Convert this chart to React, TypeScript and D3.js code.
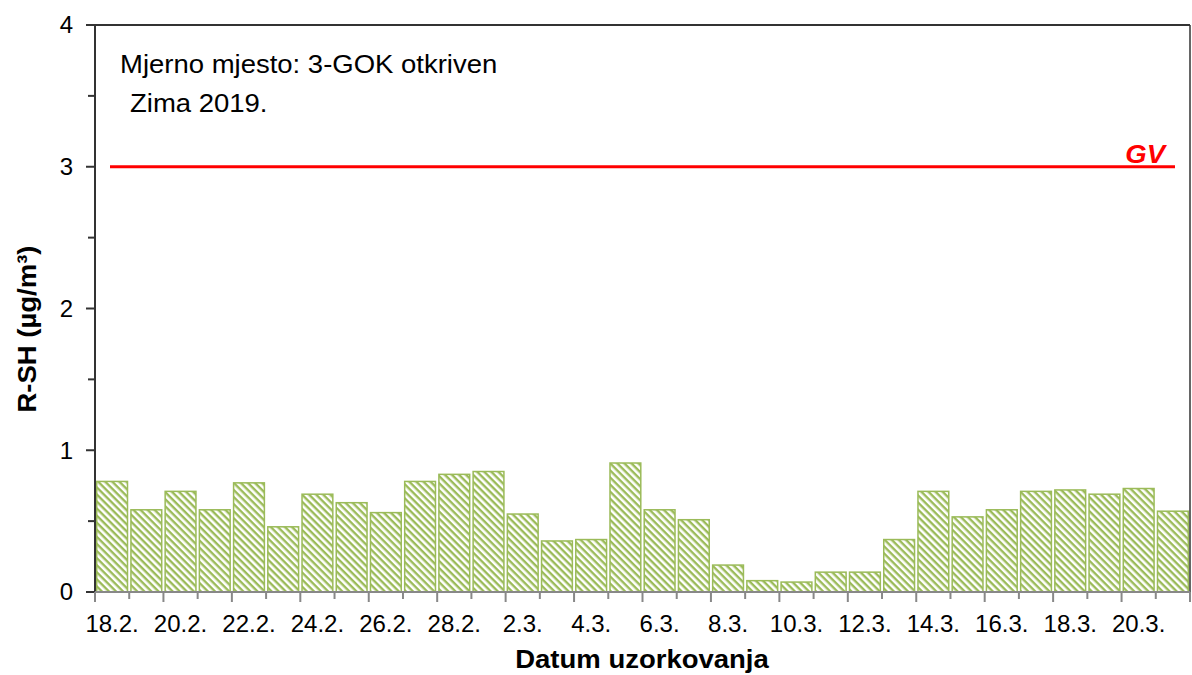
import React from "react";
import * as d3 from "d3";

const dates = ["18.2.","19.2.","20.2.","21.2.","22.2.","23.2.","24.2.","25.2.","26.2.","27.2.","28.2.","1.3.","2.3.","3.3.","4.3.","5.3.","6.3.","7.3.","8.3.","9.3.","10.3.","11.3.","12.3.","13.3.","14.3.","15.3.","16.3.","17.3.","18.3.","19.3.","20.3.","21.3."];
const values = [0.78,0.58,0.71,0.58,0.77,0.46,0.69,0.63,0.56,0.78,0.83,0.85,0.55,0.36,0.37,0.91,0.58,0.51,0.19,0.08,0.07,0.14,0.14,0.37,0.71,0.53,0.58,0.71,0.72,0.69,0.73,0.57];
const yTicks = [0,1,2,3,4];
const limitValue = 3;
const limitLabel = "GV";
const annotation1 = "Mjerno mjesto: 3-GOK otkriven";
const annotation2 = "Zima 2019.";
const yTitle = "R-SH (µg/m³)";
const xTitle = "Datum uzorkovanja";

const W = 1192, H = 675;
const left = 95, right = 1190, top = 25, bottom = 592;
const green = "#9BBB59";
const font = "'Liberation Sans', Arial, sans-serif";
const SX = 1.1;

export default function App() {
  const x = d3.scaleBand().domain(dates).range([left, right]).paddingInner(0.1).paddingOuter(0.05);
  const y = d3.scaleLinear().domain([0, 4]).range([bottom, top]);
  const bw = (right - left) / dates.length;
  const bandStart = (i: number) => left + i * bw;
  const minor = d3.range(0.5, 4, 1);
  return (
    <svg width={W} height={H} style={{ position: "absolute", left: 0, top: 0, background: "#fff" }}>
      <defs>
        <pattern id="hatch" patternUnits="userSpaceOnUse" width={5} height={5} patternTransform="rotate(45)">
          <rect x={0} y={0} width={5} height={5} fill="#fff" />
          <rect x={0} y={0} width={5} height={2.4} fill={green} />
        </pattern>
      </defs>
      <rect x={0} y={0} width={W} height={H} fill="#fff" />
      {values.map((v, i) => {
        const x0 = bandStart(i) + bw * 0.05;
        const w = bw * 0.9;
        return (
          <rect key={i} x={x0} y={y(v)} width={w} height={bottom - y(v)}
            fill="url(#hatch)" stroke={green} strokeWidth={1.5} />
        );
      })}
      <line x1={86} x2={right} y1={top} y2={top} stroke="#333" strokeWidth={2} />
      <line x1={right} x2={right} y1={top} y2={bottom} stroke="#333" strokeWidth={1.5} />
      <line x1={left} x2={left} y1={top} y2={bottom} stroke="#333" strokeWidth={2} />
      <line x1={left} x2={right} y1={bottom} y2={bottom} stroke="#888" strokeWidth={2} />
      {yTicks.map((t) => (
        <g key={t}>
          <line x1={86} x2={left} y1={y(t)} y2={y(t)} stroke="#333" strokeWidth={2} />
          <text x={73} y={y(t)} dy="0.35em" textAnchor="end" fontFamily={font} fontSize={24} fill="#000">{t}</text>
        </g>
      ))}
      {minor.map((t) => (
        <line key={t} x1={88} x2={left} y1={y(t)} y2={y(t)} stroke="#333" strokeWidth={2} />
      ))}
      {dates.map((d, i) => (
        <line key={"t" + i} x1={bandStart(i)} x2={bandStart(i)} y1={bottom} y2={bottom + (i % 2 === 0 ? 10 : 7)} stroke="#888" strokeWidth={2} />
      ))}
      <line x1={right} x2={right} y1={bottom} y2={bottom + 10} stroke="#888" strokeWidth={2} />
      {dates.map((d, i) => i % 2 === 0 ? (
        <text key={"l" + i} x={bandStart(i) + bw / 2} y={632} textAnchor="middle" fontFamily={font} fontSize={24} fill="#000">{d}</text>
      ) : null)}
      <line x1={110} x2={1175} y1={y(limitValue)} y2={y(limitValue)} stroke="#ff0000" strokeWidth={3} />
      <text transform={`translate(1165,163) scale(${SX},1)`} textAnchor="end" fontFamily={font} fontSize={25} fontWeight="bold" fontStyle="italic" fill="#ff0000">{limitLabel}</text>
      <text transform={`translate(120,73) scale(${SX},1)`} fontFamily={font} fontSize={25} fill="#000">{annotation1}</text>
      <text transform={`translate(130,112) scale(${SX},1)`} fontFamily={font} fontSize={25} fill="#000">{annotation2}</text>
      <text transform={`translate(642,668) scale(${SX},1)`} textAnchor="middle" fontFamily={font} fontSize={25} fontWeight="bold" fill="#000">{xTitle}</text>
      <text transform={`translate(36,329) rotate(-90) scale(${SX},1)`} textAnchor="middle" fontFamily={font} fontSize={25} fontWeight="bold" fill="#000">{yTitle}</text>
    </svg>
  );
}
